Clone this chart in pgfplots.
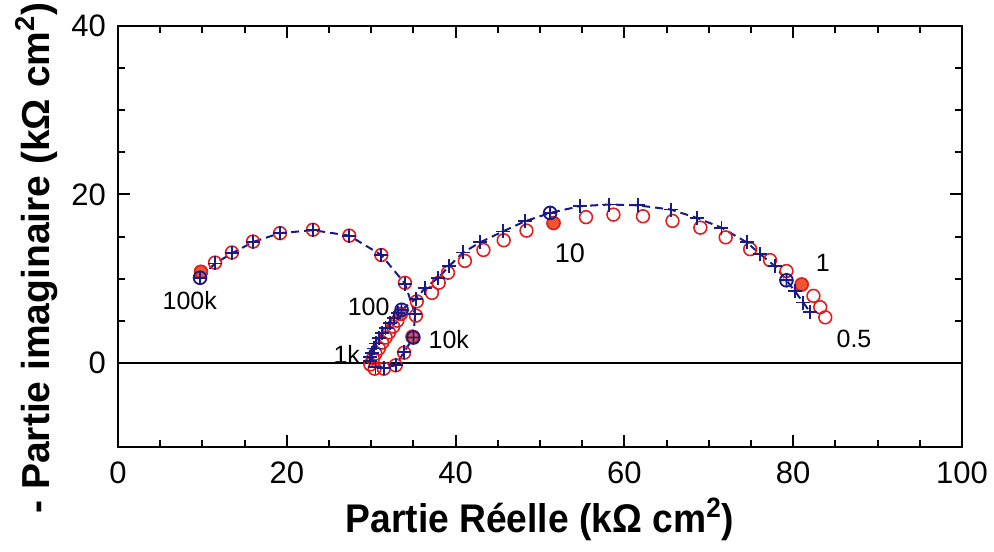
\documentclass[border=0pt]{standalone}
\usepackage{fontspec}
\setmainfont{Liberation Sans}
\newfontfamily\condfont[FakeStretch=0.93]{Liberation Sans}
\usepackage{pgfplots}
\pgfplotsset{compat=1.18}
\definecolor{myred}{RGB}{225,30,30}
\definecolor{myfill}{RGB}{240,85,50}
\definecolor{myblue}{RGB}{25,25,135}

\pgfplotstableread{
x y
9.72 10.1
11.5 11.8
13.5 13.0
16.0 14.35
19.2 15.4
23.1 15.75
27.4 15.1
31.2 12.8
34.0 9.4
35.2 5.8
35.0 3.0
33.9 1.3
32.9 -0.3
31.5 -0.6
30.5 -0.5
29.8 0.2
29.9 0.7
30.1 1.2
30.3 1.7
30.6 2.3
30.9 2.9
31.3 3.5
31.7 4.1
32.2 4.7
32.7 5.3
33.2 5.9
33.6 6.3
35.3 7.6
36.4 8.9
37.95 10.1
39.25 11.5
40.9 13.1
42.9 14.3
45.6 15.6
48.2 16.8
51.2 17.8
54.7 18.6
58.2 18.8
61.6 18.7
65.5 18.2
68.6 17.2
71.5 16.05
74.5 14.3
76.1 12.9
77.8 11.5
79.2 9.8
80.2 8.5
81.2 7.15
82.0 6.0
}\bluedata

\pgfplotstableread{
x y
9.83 10.8
11.5 11.9
13.5 13.1
16.0 14.4
19.2 15.4
23.1 15.8
27.4 15.1
31.2 12.8
34.0 9.5
35.3 5.6
34.9 3.1
33.9 1.2
32.9 -0.3
31.5 -0.7
30.4 -0.7
29.9 -0.2
30.2 0.5
30.5 1.1
30.9 1.7
31.3 2.4
31.7 3.0
32.1 3.6
32.6 4.3
33.1 5.0
33.5 5.8
35.4 7.3
37.2 8.3
38.0 9.5
39.1 10.7
41.1 12.1
43.3 13.4
45.7 14.55
48.4 15.7
51.6 16.6
55.45 17.3
58.7 17.6
62.2 17.4
65.7 16.85
69.0 16.05
72.0 14.9
74.9 13.5
77.25 12.2
79.2 10.9
81.0 9.3
82.4 7.95
83.2 6.6
83.8 5.4
}\reddata

\begin{document}
\begin{tikzpicture}
\path[use as bounding box] (-59pt,-52pt) rectangle (438pt,223.5pt);
\begin{axis}[
  scale only axis, width=422pt, height=210.5pt,
  xmin=0, xmax=100, ymin=-10, ymax=40,
  xtick={0,20,...,100}, ytick={0,20,40},
  minor x tick num=3, minor y tick num=3,
  tick align=inside,
  major tick length=6pt, minor tick length=3.5pt,
  axis line style={line width=1.3pt},
  every tick/.style={black, line width=1pt},
  tick label style={font=\fontsize{15.5}{18}\selectfont},
  xticklabel style={yshift=-4pt},
  yticklabel style={xshift=-2.5pt},
  /pgf/number format/assume math mode=true,
  xlabel={Partie Réelle (kΩ cm\textsuperscript{2})},
  ylabel={- Partie imaginaire (kΩ cm\textsuperscript{2})},
  every axis x label/.style={at={(ticklabel cs:0.5)}, anchor=near ticklabel, font=\condfont\bfseries\fontsize{20}{22}\selectfont},
  every axis y label/.style={at={(ticklabel cs:0.449)}, rotate=90, anchor=near ticklabel, font=\bfseries\fontsize{19.5}{22}\selectfont},
  clip=false,
]
\addplot[black, line width=1pt] coordinates {(0,0) (100,0)};
\addplot[only marks, mark=o, mark size=3.2pt, mark options={myred, line width=0.8pt}] table[x=x,y=y] {\reddata};
\addplot[only marks, mark=*, mark size=3.2pt, mark options={draw=myred, fill=myfill, line width=0.8pt}]
  coordinates {(9.83,10.8) (34.9,3.1) (33.5,5.8) (51.6,16.6) (81.0,9.3)};
\addplot[myblue, line width=1pt, dash pattern=on 4pt off 2.5pt, mark=+, mark size=3.5pt, mark options={solid, line width=0.9pt}] table[x=x,y=y] {\bluedata};
\addplot[only marks, mark=oplus, mark size=3.2pt, mark options={myblue, line width=0.9pt}]
  coordinates {(9.72,10.1) (35.0,3.0) (33.6,6.3) (51.2,17.8) (79.2,9.8)};
\node[font=\fontsize{12.5}{14}\selectfont] at (axis cs:8.5,7.35) {100k};
\node[font=\fontsize{13.5}{15}\selectfont] at (axis cs:53.55,13.05) {10};
\node[font=\fontsize{12.5}{14}\selectfont] at (axis cs:83.5,11.9) {1};
\node[font=\fontsize{12.5}{14}\selectfont] at (axis cs:87.2,2.85) {0.5};
\node[font=\fontsize{12.5}{14}\selectfont] at (axis cs:29.7,6.6) {100};
\node[font=\fontsize{12.5}{14}\selectfont] at (axis cs:39.2,2.8) {10k};
\node[font=\fontsize{12.5}{14}\selectfont] at (axis cs:27.1,1.0) {1k};
\end{axis}
\end{tikzpicture}
\end{document}
